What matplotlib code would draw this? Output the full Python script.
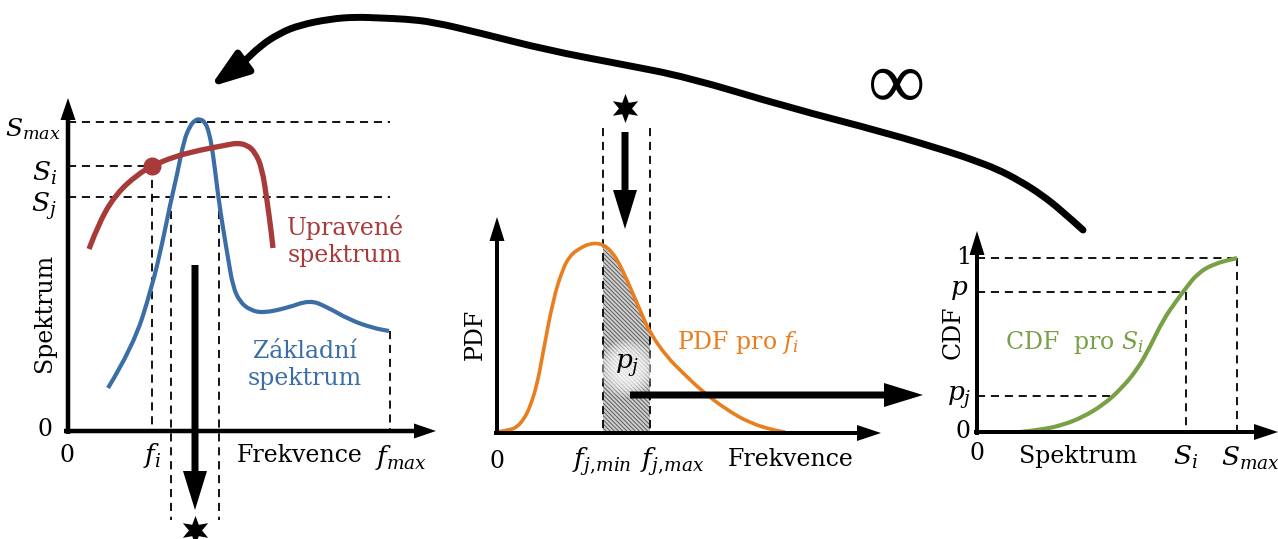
import matplotlib
matplotlib.use("Agg")
import matplotlib.pyplot as plt
from matplotlib.patches import FancyArrowPatch, PathPatch
from matplotlib.path import Path
import numpy as np

plt.rcParams["font.family"] = ["DejaVu Serif"]
plt.rcParams["mathtext.fontset"] = "dejavuserif"
plt.rcParams["hatch.linewidth"] = 0.7

# canvas is laid out in pixel units (x right, y down), 1278 x 539
W, H = 1278, 539

BLUE = "#3b6ea5"
RED = "#a83a3a"
ORANGE = "#ea7d1e"
GREEN = "#77a144"

# --- curves (pixel positions) ---
BASE_X = [108, 133, 152, 163, 170, 177, 184, 190, 195, 200, 205, 209, 213, 218, 223, 228, 233,
          240, 250, 263, 287, 310, 327, 350, 373, 389]
BASE_Y = [388, 347, 287, 240, 205, 175, 140, 126, 120, 119, 122, 132, 153, 195, 228, 258, 287,
          302, 310, 313, 308, 300, 307, 320, 328, 331]

ADJ_X = [89, 100, 117, 137, 152, 173, 200, 227, 237, 247, 255, 262, 267, 271, 273]
ADJ_Y = [249, 220, 193, 175, 166, 157, 150, 145, 143, 145, 152, 168, 200, 230, 248]

PDF_X = [497, 510, 517, 524, 530, 537, 543, 553, 563, 570, 577, 590, 603, 613, 620, 627, 640,
         650, 667, 683, 703, 727, 750, 773, 785]
PDF_Y = [432, 430, 427, 419, 407, 385, 353, 300, 268, 256, 250, 243, 244, 253, 265, 280, 310,
         333, 357, 373, 392, 410, 423, 430, 432]

CDF_X = [1020, 1040, 1063, 1083, 1103, 1120, 1137, 1150, 1163, 1177, 1186, 1197, 1213, 1237]
CDF_Y = [432, 430, 425, 417, 405, 390, 370, 347, 320, 300, 288, 274, 264, 258]

LOOP_X = [1083, 1062, 1042, 1020, 997, 973, 953, 887, 787, 687, 620, 547, 480, 433, 405,
          380, 355, 330, 300, 280, 260, 243, 210]
LOOP_Y = [230, 211, 195, 181, 169, 160, 153, 133, 107, 77, 64, 50, 33, 22, 19,
          18, 17, 19, 25, 33, 46, 63, 87]

F_J_MIN, F_J_MAX = 603, 650   # shaded band in the PDF panel

fig = plt.figure(figsize=(W / 100, H / 100), dpi=100)
ax = fig.add_axes([0, 0, 1, 1])
ax.set_xlim(0, W)
ax.set_ylim(H, 0)
ax.axis("off")

DASH = dict(color="k", lw=1.3, ls=(0, (4.5, 3.2)))


def smooth(xs, ys):
    # quadratic bezier through the midpoints of the read-off polyline
    pts = np.column_stack([xs, ys]).astype(float)
    verts, codes = [pts[0]], [Path.MOVETO]
    for i in range(1, len(pts) - 1):
        verts += [pts[i], (pts[i] + pts[i + 1]) / 2]
        codes += [Path.CURVE3, Path.CURVE3]
    verts.append(pts[-1])
    codes.append(Path.LINETO)
    return Path(verts, codes)


def curve(xs, ys, color, lw, z=3):
    ax.add_patch(PathPatch(smooth(xs, ys), fill=False, edgecolor=color, lw=lw,
                           joinstyle="round", capstyle="butt", zorder=z))


def axis_arrow(x0, y0, x1, y1, lw=4.5, hw=15, hl=22):
    ax.arrow(x0, y0, x1 - x0, y1 - y0, width=lw, head_width=hw, head_length=hl,
             length_includes_head=True, color="k", lw=0, zorder=5)


def big_arrow(x0, y0, x1, y1):
    ax.arrow(x0, y0, x1 - x0, y1 - y0, width=7, head_width=24, head_length=39,
             length_includes_head=True, color="k", lw=0, zorder=6)


ang = np.pi / 2 + np.arange(12) * np.pi / 6
rad = np.where(np.arange(12) % 2 == 0, 1.0, 0.45)
STAR = Path(np.column_stack([rad * np.cos(ang), rad * np.sin(ang)]))


def star(x, y):
    ax.plot(x, y, marker=STAR, ms=21, color="k", mec="k", mew=0, zorder=7, clip_on=False)


TXT = dict(fontsize=17, color="k")
MTH = dict(fontsize=19, color="k")

# ---------------- left panel: spectra ----------------
ax.plot([68, 390], [122, 122], **DASH)
ax.plot([68, 152], [166, 166], **DASH)
ax.plot([68, 390], [197, 197], **DASH)
ax.plot([152, 152], [166, 430], **DASH)
ax.plot([171, 171], [197, 520], **DASH)
ax.plot([219, 219], [197, 520], **DASH)
ax.plot([390, 390], [331, 430], **DASH)

curve(BASE_X, BASE_Y, BLUE, 3)
curve(ADJ_X, ADJ_Y, RED, 3.8)
ax.plot([152], [166], "o", ms=12, color=RED, zorder=4)

axis_arrow(64, 431, 436, 431)
axis_arrow(68, 434, 68, 98)
big_arrow(195, 265, 195, 510)
star(195, 530)

ax.text(61, 136, r"$S_{max}$", ha="right", va="baseline", fontsize=18)
ax.text(57, 181, r"$S_i$", ha="right", va="baseline", **MTH)
ax.text(57, 212, r"$S_j$", ha="right", va="baseline", **MTH)
ax.text(45, 430, "0", ha="center", va="center", **TXT)
ax.text(67, 455, "0", ha="center", va="center", **TXT)
ax.text(152, 456, r"$f_i$", ha="center", va="center", **MTH)
ax.text(300, 456, "Frekvence", ha="center", va="center", **TXT)
ax.text(401, 457, r"$f_{max}$", ha="center", va="center", **MTH)
ax.text(45, 313, "Spektrum", ha="center", va="center", rotation=90, **TXT)
ax.text(345, 241, "Upravené\nspektrum", ha="center", va="center", color=RED,
        fontsize=17, linespacing=1.2)
ax.text(305, 365, "Základní\nspektrum", ha="center", va="center", color=BLUE,
        fontsize=17, linespacing=1.2)

# ---------------- middle panel: PDF ----------------
px = np.array(PDF_X)
py = np.array(PDF_Y)
band = (px >= F_J_MIN) & (px <= F_J_MAX)
ax.fill_between(px[band], py[band], 433, facecolor="#cfcfcf", edgecolor="#5a5a5a",
                hatch="\\\\\\\\\\\\\\\\", lw=0, zorder=1)
ax.plot([F_J_MIN, F_J_MIN], [128, 433], **DASH)
ax.plot([F_J_MAX, F_J_MAX], [128, 433], **DASH)
curve(PDF_X, PDF_Y, ORANGE, 2.6)

axis_arrow(497, 434, 497, 217, lw=4, hw=15, hl=24)
axis_arrow(494, 433, 881, 433, lw=4, hw=16, hl=24)
big_arrow(625, 132, 625, 229)
star(625, 108)
big_arrow(630, 395, 923, 395)

for s in [1700, 1350, 1050, 800, 560, 350]:
    ax.scatter([627], [368], s=s, color="white", alpha=0.22, lw=0, zorder=4)
ax.text(627, 366, r"$p_j$", ha="center", va="center", zorder=5, **MTH)

ax.text(475, 334, "PDF", ha="center", va="center", rotation=90, **TXT)
ax.text(497, 461, "0", ha="center", va="center", **TXT)
ax.text(602, 462, r"$f_{j,\!min}$", ha="center", va="center", **MTH)
ax.text(672, 462, r"$f_{j,\!max}$", ha="center", va="center", **MTH)
ax.text(791, 460, "Frekvence", ha="center", va="center", **TXT)
ax.text(677, 342, r"PDF pro $f_i$", ha="left", va="center", color=ORANGE, fontsize=17)

# ---------------- right panel: CDF ----------------
ax.plot([977, 1237], [258, 258], **DASH)
ax.plot([977, 1186], [292, 292], **DASH)
ax.plot([977, 1110], [396, 396], **DASH)
ax.plot([1186, 1186], [292, 432], **DASH)
ax.plot([1237, 1237], [258, 432], **DASH)
curve(CDF_X, CDF_Y, GREEN, 3)

axis_arrow(977, 435, 977, 231, lw=4, hw=15, hl=24)
axis_arrow(974, 432, 1278, 432, lw=4, hw=16, hl=24)

ax.text(964, 258, "1", ha="center", va="center", **TXT)
ax.text(959, 290, r"$p$", ha="center", va="center", **MTH)
ax.text(959, 398, r"$p_j$", ha="center", va="center", **MTH)
ax.text(963, 432, "0", ha="center", va="center", **TXT)
ax.text(977, 454, "0", ha="center", va="center", **TXT)
ax.text(1078, 456, "Spektrum", ha="center", va="center", **TXT)
ax.text(1186, 457, r"$S_i$", ha="center", va="center", **MTH)
ax.text(1250, 458, r"$S_{max}$", ha="center", va="center", **MTH)
ax.text(953, 332, "CDF", ha="center", va="center", rotation=90, **TXT)
ax.text(1005, 343, r"CDF  pro $S_i$", ha="left", va="center", color=GREEN, fontsize=17)

# ---------------- loop-back arrow ----------------
ax.add_patch(FancyArrowPatch(path=smooth(LOOP_X, LOOP_Y),
                             arrowstyle="-|>,head_length=2.3,head_width=0.8",
                             mutation_scale=10, lw=5, color="k", joinstyle="round",
                             capstyle="round", zorder=6))
ax.text(897, 88, "∞", ha="center", va="center", fontsize=58,
        family=["Liberation Serif", "DejaVu Sans"])

fig.savefig("out.png", dpi=100)
